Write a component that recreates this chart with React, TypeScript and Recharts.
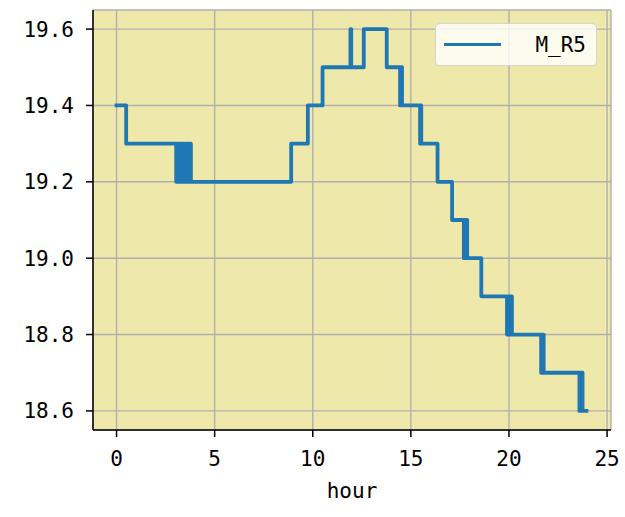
import { LineChart, Line, XAxis, YAxis, CartesianGrid, Legend } from "recharts";

// sensor readings (hour -> temperature)
const hours = [
  0, 0.49,
  3.04, 3.08, 3.12, 3.17, 3.22, 3.27, 3.33, 3.38, 3.44, 3.5, 3.56, 3.62, 3.68, 3.74, 3.79,
  8.9, 9.75, 10.5, 11.92, 11.96, 12.6, 13.77,
  14.45, 14.5, 14.55, 15.47, 15.5, 15.53, 16.36, 17.1,
  17.7, 17.75, 17.8, 17.84, 17.87, 18.59,
  19.9, 19.96, 20.02, 20.08, 20.15,
  21.64, 21.68, 21.72, 21.75, 21.77,
  23.59, 23.64, 23.7, 23.72, 23.75, 23.95,
];
const temps = [
  19.4, 19.3,
  19.2, 19.3, 19.2, 19.3, 19.2, 19.3, 19.2, 19.3, 19.2, 19.3, 19.2, 19.3, 19.2, 19.3, 19.2,
  19.3, 19.4, 19.5, 19.6, 19.5, 19.6, 19.5,
  19.4, 19.5, 19.4, 19.3, 19.4, 19.3, 19.2, 19.1,
  19.0, 19.1, 19.0, 19.1, 19.0, 18.9,
  18.8, 18.9, 18.8, 18.9, 18.8,
  18.7, 18.8, 18.7, 18.8, 18.7,
  18.6, 18.7, 18.6, 18.7, 18.6, 18.6,
];
const xTicks = [0, 5, 10, 15, 20, 25];
const yTicks = [18.6, 18.8, 19.0, 19.2, 19.4, 19.6];
const seriesName = "M_R5";

const data = hours.map((h, i) => ({ hour: h, temp: temps[i] }));

const font = '"DejaVu Sans Mono", monospace';
const tickStyle = { fill: "#000", fontSize: 21, fontFamily: font };
const spine = { stroke: "#000", strokeWidth: 1.5 };

function LegendBox({ payload }: any) {
  return (
    <div>
      {(payload ?? []).map((p: any) => (
        <div
          key={p.value}
          style={{
            width: 162, height: 43, boxSizing: "border-box", display: "flex",
            alignItems: "center", justifyContent: "space-between", padding: "0 10px 0 8px",
            background: "rgba(255,255,255,0.8)", border: "1.5px solid rgba(204,204,204,0.8)",
            borderRadius: 5,
          }}
        >
          <div style={{ width: 57, height: 3.8, background: p.color }} />
          <span style={{ fontFamily: font, fontSize: 21, color: "#000" }}>{p.value}</span>
        </div>
      ))}
    </div>
  );
}

export default function App() {
  return (
    <div style={{ position: "absolute", left: 0, top: 0, width: 625, height: 517, background: "#fff" }}>
      <LineChart width={625} height={517} data={data} margin={{ top: 10, right: 14, bottom: 0, left: 0 }}>
        <CartesianGrid fill="#eee8aa" stroke="#b0b0b0" strokeWidth={1.4} />
        <XAxis
          dataKey="hour" type="number" domain={[-1.2, 25.2]} ticks={xTicks} allowDataOverflow
          height={87} tickSize={7} tickMargin={14} axisLine={spine} tickLine={spine} tick={tickStyle}
          label={{ value: "hour", position: "insideBottom", offset: 19, fill: "#000", fontSize: 21, fontFamily: font }}
        />
        <YAxis
          type="number" domain={[18.55, 19.65]} ticks={yTicks} allowDataOverflow width={93}
          tickSize={7} tickMargin={12} axisLine={spine} tickLine={spine} tick={tickStyle}
          tickFormatter={(v: number) => v.toFixed(1)}
        />
        {/* top / right spines */}
        <XAxis xAxisId="top" orientation="top" type="number" domain={[-1.2, 25.2]} height={0} tick={false} tickLine={false} axisLine={spine} />
        <YAxis yAxisId="right" orientation="right" type="number" domain={[18.55, 19.65]} width={0} tick={false} tickLine={false} axisLine={spine} />
        <Legend
          layout="horizontal" verticalAlign="middle" align="center"
          content={<LegendBox />}
          wrapperStyle={{ top: 23, left: 435, width: 162 }}
        />
        <Line
          type="stepAfter" dataKey="temp" name={seriesName} stroke="#1f77b4" strokeWidth={3.8}
          strokeLinejoin="round" strokeLinecap="square" dot={false} isAnimationActive={false}
        />
      </LineChart>
    </div>
  );
}
